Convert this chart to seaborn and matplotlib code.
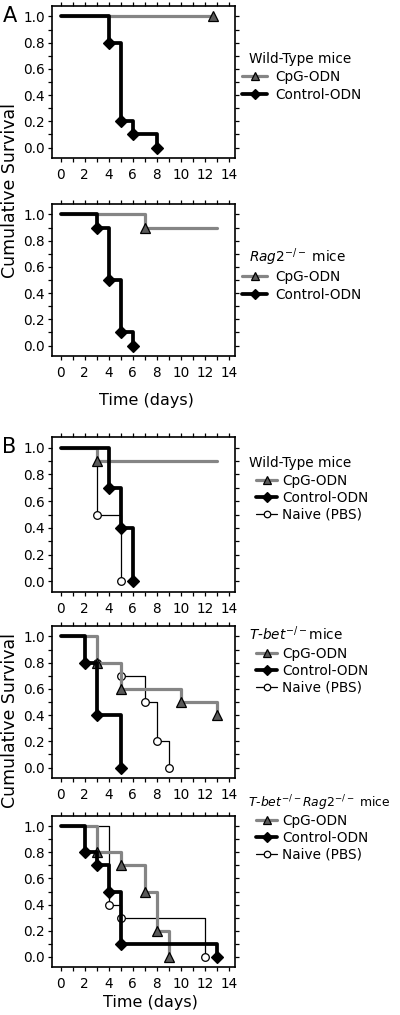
import matplotlib
matplotlib.use("Agg")
import matplotlib.pyplot as plt
from matplotlib.lines import Line2D
from matplotlib.ticker import MultipleLocator, FormatStrFormatter
import seaborn as sns
import pandas as pd

# ---- data (time in days, cumulative survival) ----
# Panel A, wild-type mice
a_wt_cpg_t = [0, 12.7]
a_wt_cpg_s = [1.0, 1.0]
a_wt_ctl_t = [0, 4, 5, 6, 8]
a_wt_ctl_s = [1.0, 0.8, 0.2, 0.1, 0.0]

# Panel A, Rag2-/- mice
a_rag_cpg_t = [0, 7, 13]
a_rag_cpg_s = [1.0, 0.9, 0.9]
a_rag_ctl_t = [0, 3, 4, 5, 6]
a_rag_ctl_s = [1.0, 0.9, 0.5, 0.1, 0.0]

# Panel B, wild-type mice
b_wt_cpg_t = [0, 3, 13]
b_wt_cpg_s = [1.0, 0.9, 0.9]
b_wt_ctl_t = [0, 4, 5, 6]
b_wt_ctl_s = [1.0, 0.7, 0.4, 0.0]
b_wt_pbs_t = [0, 3, 5]
b_wt_pbs_s = [1.0, 0.5, 0.0]

# Panel B, T-bet-/- mice
b_tb_cpg_t = [0, 3, 5, 10, 13]
b_tb_cpg_s = [1.0, 0.8, 0.6, 0.5, 0.4]
b_tb_ctl_t = [0, 2, 3, 5]
b_tb_ctl_s = [1.0, 0.8, 0.4, 0.0]
b_tb_pbs_t = [0, 3, 5, 7, 8, 9]
b_tb_pbs_s = [1.0, 0.8, 0.7, 0.5, 0.2, 0.0]

# Panel B, T-bet-/- Rag2-/- mice
b_dko_cpg_t = [0, 3, 5, 7, 8, 9]
b_dko_cpg_s = [1.0, 0.8, 0.7, 0.5, 0.2, 0.0]
b_dko_ctl_t = [0, 2, 3, 4, 5, 13]
b_dko_ctl_s = [1.0, 0.8, 0.7, 0.5, 0.1, 0.0]
b_dko_pbs_t = [0, 4, 5, 12]
b_dko_pbs_s = [1.0, 0.4, 0.3, 0.0]

group_labels = ["CpG-ODN", "Control-ODN", "Naive (PBS)"]

sns.set_theme(style="ticks")
plt.rcParams["font.family"] = ["DejaVu Sans"]
plt.rcParams["mathtext.fontset"] = "dejavusans"
plt.rcParams["text.color"] = "black"
plt.rcParams["xtick.color"] = "black"
plt.rcParams["ytick.color"] = "black"
plt.rcParams["xtick.labelcolor"] = "black"
plt.rcParams["ytick.labelcolor"] = "black"

W, H = 400, 1015
fig = plt.figure(figsize=(W / 100, H / 100), dpi=100)

STYLES = {
    "CpG-ODN": dict(color="#858585", lw=2.3, marker="^", ms=7, mfc="#5a5a5a",
                    mec="black", mew=0.9, zorder=3),
    "Control-ODN": dict(color="black", lw=2.7, marker="D", ms=5.8, mfc="black",
                        mec="black", mew=0.9, zorder=4),
    "Naive (PBS)": dict(color="black", lw=0.9, marker="o", ms=5.5, mfc="white",
                        mec="black", mew=0.9, zorder=2),
}


def rect(top, bottom, left=52, right=235):
    return [left / W, 1 - bottom / H, (right - left) / W, (bottom - top) / H]


def survival_panel(top, bottom, series):
    ax = fig.add_axes(rect(top, bottom))
    for name, t, s, marks in series:
        df = pd.DataFrame({"t": t, "s": s})
        sns.lineplot(data=df, x="t", y="s", ax=ax, estimator=None, sort=False,
                     drawstyle="steps-post", markevery=marks, clip_on=False,
                     **STYLES[name])
    ax.set_xlim(-0.72, 14.5)
    ax.set_ylim(-0.08, 1.08)
    ax.set_xticks(range(0, 15, 2))
    ax.set_yticks([0, 0.2, 0.4, 0.6, 0.8, 1.0])
    ax.yaxis.set_major_formatter(FormatStrFormatter("%.1f"))
    ax.xaxis.set_minor_locator(MultipleLocator(1))
    ax.yaxis.set_minor_locator(MultipleLocator(0.1))
    ax.tick_params(which="both", direction="out", top=True, right=True,
                   length=3, width=0.9, color="black")
    ax.tick_params(axis="x", labelsize=9.8, pad=4)
    ax.tick_params(axis="y", labelsize=9.8, pad=2)
    for sp in ax.spines.values():
        sp.set_linewidth(1.2)
        sp.set_color("black")
    ax.set_xlabel("")
    ax.set_ylabel("")
    return ax


def add_legend(ax, title, title_xy, names, x, top, hlen, tpad, lspace, title_size=9.8):
    fig.text(title_xy[0] / W, 1 - (title_xy[1] + 5) / H, title,
             fontsize=title_size, ha="left", va="baseline")
    handles = [Line2D([], [], **{k: v for k, v in STYLES[n].items() if k != "zorder"})
               for n in names]
    ax.legend(handles, names, loc="upper left", bbox_to_anchor=(x / W, 1 - top / H),
              bbox_transform=fig.transFigure, frameon=False, fontsize=9.8,
              borderpad=0, borderaxespad=0, handlelength=hlen, handletextpad=tpad,
              labelspacing=lspace, markerscale=0.85)


# ---- panel A ----
ax1 = survival_panel(6, 158, [
    ("CpG-ODN", a_wt_cpg_t, a_wt_cpg_s, [1]),
    ("Control-ODN", a_wt_ctl_t, a_wt_ctl_s, [1, 2, 3, 4]),
])
add_legend(ax1, "Wild-Type mice", (249, 58), group_labels[:2], 242, 70, 1.84, 0.59, 0.3)

ax2 = survival_panel(204, 356, [
    ("CpG-ODN", a_rag_cpg_t, a_rag_cpg_s, [1]),
    ("Control-ODN", a_rag_ctl_t, a_rag_ctl_s, [1, 2, 3, 4]),
])
add_legend(ax2, r"$\mathit{Rag2}^{-/-}$ mice", (249, 257), group_labels[:2], 242, 270, 1.84, 0.59, 0.3)

# ---- panel B ----
ax3 = survival_panel(437, 592, [
    ("Naive (PBS)", b_wt_pbs_t, b_wt_pbs_s, [1, 2]),
    ("CpG-ODN", b_wt_cpg_t, b_wt_cpg_s, [1]),
    ("Control-ODN", b_wt_ctl_t, b_wt_ctl_s, [1, 2, 3]),
])
add_legend(ax3, "Wild-Type mice", (249, 462), group_labels, 256, 474, 1.55, 0.37, 0.22)

ax4 = survival_panel(626, 778, [
    ("Naive (PBS)", b_tb_pbs_t, b_tb_pbs_s, [1, 2, 3, 4, 5]),
    ("CpG-ODN", b_tb_cpg_t, b_tb_cpg_s, [1, 2, 3, 4]),
    ("Control-ODN", b_tb_ctl_t, b_tb_ctl_s, [1, 2, 3]),
])
add_legend(ax4, r"$\mathit{T}$-$\mathit{bet}^{-/-}$mice", (249, 635), group_labels, 256, 647, 1.55, 0.37, 0.22)

ax5 = survival_panel(816, 967, [
    ("Naive (PBS)", b_dko_pbs_t, b_dko_pbs_s, [1, 2, 3]),
    ("CpG-ODN", b_dko_cpg_t, b_dko_cpg_s, [1, 2, 3, 4, 5]),
    ("Control-ODN", b_dko_ctl_t, b_dko_ctl_s, [1, 2, 3, 4, 5]),
])
add_legend(ax5, r"$\mathit{T}$-$\mathit{bet}^{-/-}\mathit{Rag2}^{-/-}$ mice", (248, 802),
           group_labels, 256, 814, 1.55, 0.37, 0.22, title_size=8.9)

# ---- shared labels ----
fig.text(3 / W, 1 - 22 / H, "A", fontsize=15, ha="left", va="baseline")
fig.text(2 / W, 1 - 453 / H, "B", fontsize=15, ha="left", va="baseline")
fig.text(10 / W, 1 - 190 / H, "Cumulative Survival", fontsize=12.5, rotation=90,
         ha="center", va="center")
fig.text(10 / W, 1 - 720 / H, "Cumulative Survival", fontsize=12.5, rotation=90,
         ha="center", va="center")
fig.text(146 / W, 1 - 401 / H, "Time (days)", fontsize=11.5, ha="center", va="center")
fig.text(150 / W, 1 - 1003 / H, "Time (days)", fontsize=11.5, ha="center", va="center")

fig.savefig("out.png", dpi=100, facecolor="white")
